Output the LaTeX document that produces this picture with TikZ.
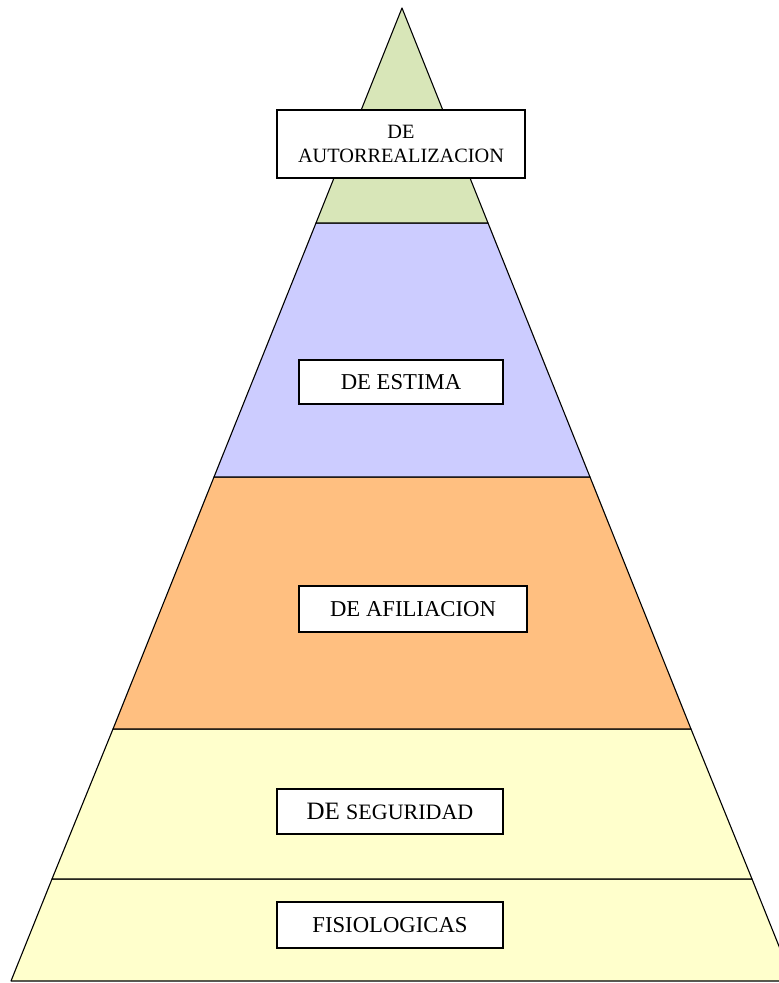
\documentclass[tikz,border=0pt]{standalone}
\usepackage{fontspec}
\setmainfont{Liberation Serif}
\definecolor{autocol}{HTML}{D8E6B8}
\definecolor{estimacol}{HTML}{CCCCFF}
\definecolor{afilcol}{HTML}{FFBF80}
\definecolor{segcol}{HTML}{FFFFCC}
\tikzset{
  level/.style={draw=black,line width=1.1pt,line join=round},
  labelbox/.style={draw=black,line width=1.7pt,fill=white,inner sep=0pt,align=center},
  bigtext/.style={font=\fontsize{22.7}{26}\selectfont},
  smalltext/.style={font=\fontsize{20.3}{24}\selectfont}
}
\begin{document}
\begin{tikzpicture}[x=1pt,y=-1pt]
\useasboundingbox (0,0) rectangle (779,983);
\clip (0,0) rectangle (779,983);
% levels of the pyramid, bottom to top
\draw[level,fill=segcol](11,981)--(793,981)--(752,879)--(52,879)--cycle;
\draw[level,fill=segcol](52,879)--(752,879)--(691,729)--(113,729)--cycle;
\draw[level,fill=afilcol](113,729)--(691,729)--(590,477)--(214,477)--cycle;
\draw[level,fill=estimacol](214,477)--(590,477)--(488,223)--(316,223)--cycle;
\draw[level,fill=autocol](316,223)--(488,223)--(402,8)--cycle;
% labels
\node[labelbox,smalltext,minimum width=248pt,minimum height=68pt] (autorr) at (401,144) {DE\\AUTORREALIZACION};
\node[labelbox,bigtext,minimum width=204pt,minimum height=44pt] (estima) at (401,382) {DE ESTIMA};
\node[labelbox,bigtext,minimum width=228pt,minimum height=46pt] (afil) at (413,609) {DE AFILIACION};
\node[labelbox,minimum width=226pt,minimum height=45pt] (segur) at (390,811.5) {\fontsize{25}{30}\selectfont DE\ {\fontsize{22}{26}\selectfont SEGURIDAD}};
\node[labelbox,bigtext,minimum width=226pt,minimum height=46pt] (fisio) at (390,925) {FISIOLOGICAS};
\end{tikzpicture}
\end{document}
